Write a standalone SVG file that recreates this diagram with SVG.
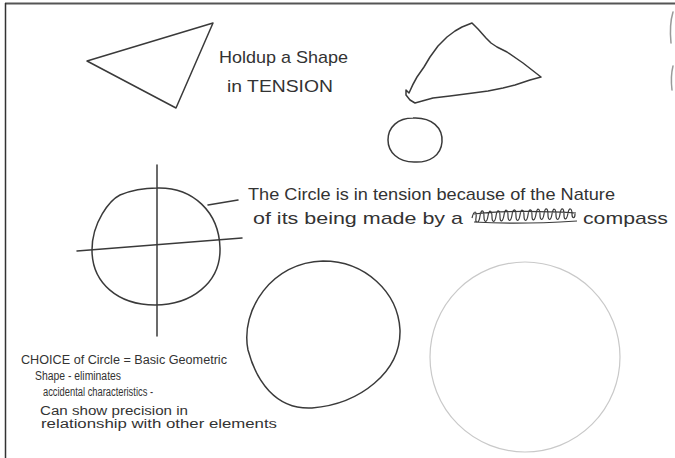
<svg xmlns="http://www.w3.org/2000/svg" width="675" height="458" viewBox="0 0 675 458">
<style>
.ink{fill:none;stroke:#3a3a3a;stroke-width:1.5;stroke-linecap:round;stroke-linejoin:round}
.faint{fill:none;stroke:#c9c9c9;stroke-width:1.2}
.mark{fill:none;stroke:#9a9a9a;stroke-width:1.5;stroke-linecap:round}
.t{font-family:"Liberation Sans","DejaVu Sans",sans-serif;fill:#333}
.big{font-size:17px}
.small{font-size:12.5px}
</style>
<rect x="0" y="0" width="675" height="458" fill="#ffffff"/>
<g id="frame">
<line x1="5" y1="3.5" x2="675" y2="3.5" stroke="#555" stroke-width="2"/>
<line x1="5.5" y1="3" x2="5.5" y2="458" stroke="#333" stroke-width="1.5"/>
<path class="mark" d="M673,12 C670,22 670,33 671,43"/>
<path class="mark" d="M673,66 C671,74 671,82 672,90"/>
</g>
<g id="triangle">
<path class="ink" d="M87,61 L213,23 L176,108 Z"/>
</g>
<g id="title">
<text class="t big" x="219" y="63" textLength="129" lengthAdjust="spacingAndGlyphs">Holdup a Shape</text>
<text class="t big" x="227" y="92" textLength="106" lengthAdjust="spacingAndGlyphs">in TENSION</text>
</g>
<g id="wavy-shape">
<path class="ink" d="M472,23 L478,29 L486,38 L491,43 L497,47 L507,52 L523,63 L541,77 L530,80 L515,85 L503,88 L488,91 L473,93 L450,96 L433,98 L415,103 L410,100 L406,95 L406,90 L409,93 C412,86 414,82 417,77 L424,67 L430,57 L438,46 L447,37 L455,31 L462,27 Z"/>
</g>
<g id="small-circle">
<path class="ink" d="M413,118 C432,117 443,128 442,142 C441,155 430,163 414,162 C398,162 388,152 388,140 C388,127 398,118 413,118 Z"/>
</g>
<g id="crossed-circle">
<path class="ink" d="M157,188 C193,187 219,212 220,248 C221,283 191,305 155,305 C118,305 92,283 92,250 C92,222 110,200 120,195 C132,190 144,188 157,188 Z"/>
<line class="ink" x1="157" y1="165" x2="157" y2="336"/>
<line class="ink" x1="77" y1="251" x2="242" y2="238"/>
</g>
<g id="connectors">
<line class="ink" x1="208" y1="205" x2="238" y2="200"/>
</g>
<g id="circle-note">
<text class="t big" x="248" y="200" textLength="367" lengthAdjust="spacingAndGlyphs">The Circle is in tension because of the Nature</text>
<text class="t big" x="253" y="224" textLength="210" lengthAdjust="spacingAndGlyphs">of its being made by a</text>
<path fill="none" stroke="#3a3a3a" stroke-width="1.2" stroke-linejoin="round" d="M472,218 c2,-8 5,-8 4,0 c-1,6 3,6 4,-2 c1,-7 4,-7 4,1 c0,6 3,6 4,-1 c1,-7 4,-6 4,1 c0,6 3,6 4,-1 c1,-7 4,-7 4,1 c0,6 3,5 4,-2 c1,-7 4,-6 4,1 c0,6 3,6 4,-1 c1,-7 4,-7 4,1 c0,6 3,6 4,-1 c1,-7 4,-6 4,1 c0,6 3,6 4,-1 c1,-7 4,-7 4,1 c0,6 3,5 4,-2 c1,-7 4,-6 4,1 c0,6 3,6 4,-1 c1,-7 4,-7 4,1 c0,6 3,6 4,-1 c1,-7 4,-6 4,1 c0,6 3,6 4,-1 c1,-7 4,-7 4,1 c0,6 3,5 4,-2 c1,-6 4,-5 4,1 c0,5 3,5 3,0 M474,214 C500,211 540,211 576,213 M474,222 C505,224 545,223 577,221"/>
<text class="t big" x="583" y="224" textLength="85" lengthAdjust="spacingAndGlyphs">compass</text>
</g>
<g id="choice-note">
<text class="t small" x="21" y="364" textLength="206" lengthAdjust="spacingAndGlyphs">CHOICE of Circle = Basic Geometric</text>
<text class="t small" x="35" y="380" textLength="86" lengthAdjust="spacingAndGlyphs">Shape - eliminates</text>
<text class="t small" x="43" y="396" textLength="110" lengthAdjust="spacingAndGlyphs">accidental characteristics -</text>
<text class="t small" x="40" y="415" textLength="148" lengthAdjust="spacingAndGlyphs">Can show precision in</text>
<text class="t small" x="41" y="428" textLength="236" lengthAdjust="spacingAndGlyphs">relationship with other elements</text>
</g>
<g id="circle-drawn">
<path class="ink" d="M323,261 C365,261 398,292 400,330 C401,372 360,404 312,408 C275,410 256,380 248,350 C240,310 272,262 323,261 Z"/>
</g>
<g id="circle-faint">
<ellipse class="faint" cx="525" cy="357" rx="95" ry="95"/>
</g>
</svg>
